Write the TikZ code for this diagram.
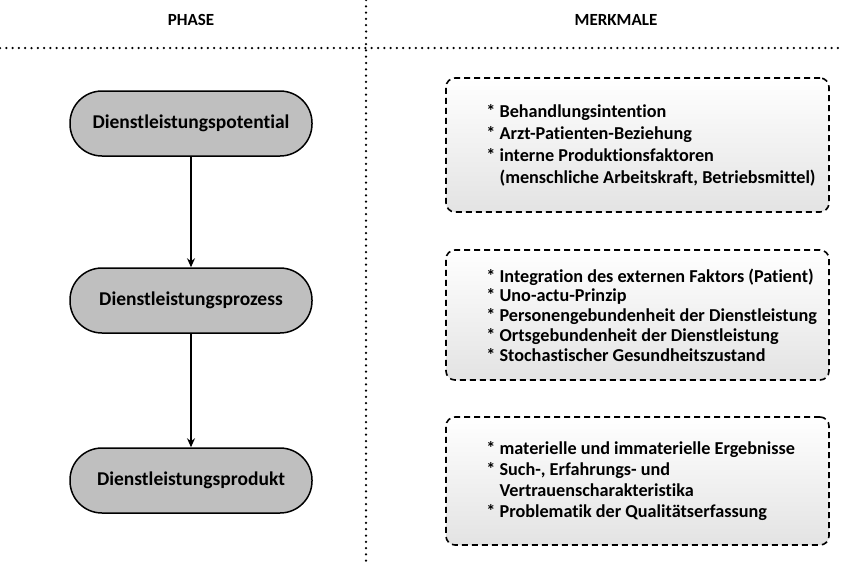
\documentclass[tikz,border=0pt]{standalone}
\usepackage{fontspec}
\setmainfont{Carlito}[Ligatures=NoCommon]
\usetikzlibrary{arrows.meta,positioning}

\begin{document}
\begin{tikzpicture}[x=1pt,y=-1pt,
  every node/.style={font=\fontsize{17}{20}\selectfont\bfseries},
  phase/.style={draw,line width=1.5pt,fill=gray!50,rounded corners=32pt,minimum width=242pt,minimum height=65pt,font=\fontsize{19.5}{22}\selectfont\bfseries},
  merkbox/.style={draw,dash pattern=on 6pt off 4pt,line width=1.6pt,rounded corners=9pt,top color=white,bottom color=gray!22,minimum width=383pt},
  merktext/.style={anchor=west,align=left,inner sep=0pt,font=\fontsize{18.2}{19.7}\selectfont\bfseries},
  sep/.style={line width=2.5pt,dash pattern=on 0pt off 6.3pt,line cap=round},
  flow/.style={-{Stealth[length=9pt,width=8pt]},line width=1.3pt}]
\useasboundingbox (0,0) rectangle (841,563);
% Trennlinien
\draw[sep] (0,48)--(841,48);
\draw[sep] (366,0)--(366,563);
\node (hphase) at (191,20) {PHASE};
\node (hmerk) at (616,20) {MERKMALE};
% Phasen
\node[phase] (p1) at (191,123.5) {Dienstleistungspotential};
\node[phase] (p2) at (191,300.5) {Dienstleistungsprozess};
\node[phase] (p3) at (191,480.5) {Dienstleistungsprodukt};
\draw[flow] (p1)--(p2);
\draw[flow] (p2)--(p3);
% Merkmale
\node[merkbox,minimum height=134pt] (m1) at (637.5,145) {};
\node[merktext,font=\fontsize{18.2}{22}\selectfont\bfseries] (t1) at ([xshift=41pt]m1.west) {* Behandlungsintention\\* Arzt-Patienten-Beziehung\\* interne Produktionsfaktoren\\\hphantom{* }(menschliche Arbeitskraft, Betriebsmittel)};
\node[merkbox,minimum height=130pt] (m2) at (637.5,315) {};
\node[merktext] (t2) at ([xshift=41pt]m2.west) {* Integration des externen Faktors (Patient)\\* Uno-actu-Prinzip\\* Personengebundenheit der Dienstleistung\\* Ortsgebundenheit der Dienstleistung\\* Stochastischer Gesundheitszustand};
\node[merkbox,minimum height=128pt] (m3) at (637.5,481) {};
\node[merktext,font=\fontsize{18.2}{21}\selectfont\bfseries] (t3) at ([xshift=41pt]m3.west) {* materielle und immaterielle Ergebnisse\\* Such-, Erfahrungs- und\\\hphantom{* }Vertrauenscharakteristika\\* Problematik der Qualitätserfassung};
\end{tikzpicture}
\end{document}
